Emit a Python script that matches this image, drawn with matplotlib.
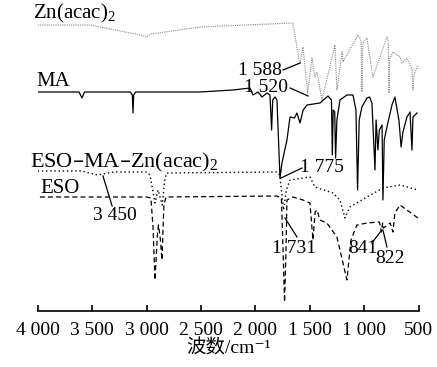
import matplotlib
matplotlib.use('Agg')
import matplotlib.pyplot as plt

plt.rcParams['font.family'] = ['Liberation Serif', 'Noto Sans CJK SC', 'DejaVu Serif']
plt.rcParams['mathtext.default'] = 'regular'

# wavenumber (cm-1) / transmittance (offset, a.u.)
zn_wn = [4000, 3520, 3060, 3000, 2960, 2508, 2095, 1654, 1630, 1600, 1588, 1562, 1540, 1520,
         1479, 1452, 1433, 1387, 1268, 1250, 1203, 1194, 1056, 1028, 1020, 1012, 974, 919,
         790, 778, 771, 764, 735, 670, 652, 606, 560, 551, 540, 505]
zn_t = [284, 284, 274, 272, 275, 282, 284, 286, 270, 250, 246, 262, 239, 216,
        251, 232, 237, 209, 264, 219, 257, 247, 274, 268, 217, 266, 271, 232,
        272, 268, 216, 250, 257, 252, 246, 251, 240, 219, 235, 244]

ma_wn = [4000, 3620, 3593, 3570, 3150, 3130, 3124, 3118, 3100, 2508, 2205, 2049, 2021, 1975,
         1939, 1893, 1865, 1850, 1840, 1819, 1801, 1773, 1755, 1709, 1681, 1640, 1617, 1589,
         1560, 1525, 1406, 1332, 1300, 1292, 1284, 1270, 1262, 1250, 1222, 1158, 1102, 1075,
         1060, 1045, 1020, 974, 950, 928, 900, 890, 873, 860, 835, 827, 815, 790, 744, 717,
         680, 660, 643, 606, 578, 560, 551, 514]
ma_t = [217, 217, 211, 217, 217, 214, 196, 214, 217, 217, 219, 221, 214, 217,
        212, 216, 214, 179, 209, 212, 209, 131, 146, 169, 192, 191, 196, 186,
        199, 204, 206, 213, 209, 154, 199, 197, 151, 189, 209, 214, 214, 199,
        119, 189, 202, 211, 212, 206, 139, 189, 159, 179, 184, 109, 169, 182, 204, 212,
        189, 162, 177, 192, 197, 159, 192, 196]

emz_wn = [4000, 3600, 3450, 3300, 3000, 2968, 2922, 2894, 2855, 2830, 2812, 1800, 1775,
          1740, 1715, 1681, 1498, 1452, 1286, 1222, 1176, 1130, 974, 827, 670, 505]
emz_t = [138, 138, 134, 137, 137, 134, 106, 119, 104, 131, 136, 137, 134,
         99, 119, 129, 132, 122, 116, 109, 91, 102, 112, 121, 124, 119]

eso_wn = [3980, 3000, 2960, 2940, 2922, 2900, 2890, 2872, 2858, 2840, 2820, 1800, 1760,
          1745, 1731, 1718, 1709, 1654, 1562, 1498, 1470, 1450, 1433, 1406, 1342, 1250,
          1194, 1158, 1121, 1066, 974, 860, 841, 830, 822, 760, 735, 717, 670, 505]
eso_t = [112, 112, 111, 82, 29, 74, 84, 69, 49, 104, 112, 113, 111,
         59, 7, 59, 109, 112, 109, 106, 69, 97, 99, 89, 86, 72,
         46, 29, 69, 84, 86, 87, 77, 86, 81, 86, 77, 96, 104, 91]

ticks = [4000, 3500, 3000, 2500, 2000, 1500, 1000, 500]
tick_labels = ['4 000', '3 500', '3 000', '2 500', '2 000', '1 500', '1 000', '500']

fig = plt.figure(figsize=(4.37, 3.67), dpi=100)
ax = fig.add_axes([37.7 / 437, 56 / 367, 380.8 / 437, 311 / 367])

ax.plot(zn_wn, zn_t, color='#888888', lw=0.8, ls=(0, (1, 1)))
ax.plot(ma_wn, ma_t, color='black', lw=0.9)
ax.plot(emz_wn, emz_t, color='black', lw=1.0, ls=(0, (1, 2)))
ax.plot(eso_wn, eso_t, color='black', lw=0.9, ls=(0, (4, 2.5)))

ax.set_xlim(4000, 500)
ax.set_ylim(-2, 309)
ax.set_xticks(ticks)
ax.set_xticklabels(tick_labels, fontsize=14)
ax.tick_params(axis='x', direction='in', length=4, width=1.2, pad=8)
ax.set_yticks([])
for s in ['top', 'left', 'right']:
    ax.spines[s].set_visible(False)
ax.spines['bottom'].set_linewidth(1.2)
ax.set_xlabel('波数/cm⁻¹', fontsize=14, labelpad=0)

fs = 15
ax.text(4043, 291, 'Zn(acac)$_2$', fontsize=fs, va='baseline', clip_on=False)
ax.text(4016, 223, 'MA', fontsize=fs, va='baseline', clip_on=False)
ax.text(4071, 142, 'ESO–MA–Zn(acac)$_2$', fontsize=16, va='baseline', clip_on=False)
ax.text(3979, 116, 'ESO', fontsize=fs, va='baseline', clip_on=False)

fn = 14
ax.text(1753, 234, '1 588', fontsize=fn, ha='right', va='baseline')
ax.plot([1745, 1588], [239, 246], color='black', lw=0.9)
ax.text(1698, 217, '1 520', fontsize=fn, ha='right', va='baseline')
ax.plot([1680, 1515], [221, 213], color='black', lw=0.9)
ax.text(3492, 89, '3 450', fontsize=fn, va='baseline')
ax.plot([3316, 3400], [103, 133], color='black', lw=0.9)
ax.text(1589, 137, '1 775', fontsize=fn, va='baseline')
ax.plot([1571, 1764], [141, 131], color='black', lw=0.9)
ax.text(1845, 56, '1 731', fontsize=fn, va='baseline')
ax.plot([1617, 1727], [72, 91], color='black', lw=0.9)
ax.text(1149, 56, '841', fontsize=fn, va='baseline')
ax.plot([929, 837], [66, 79], color='black', lw=0.9)
ax.text(901, 46, '822', fontsize=fn, va='baseline')
ax.plot([790, 827], [62, 79], color='black', lw=0.9)

fig.savefig('out.png', dpi=100)
